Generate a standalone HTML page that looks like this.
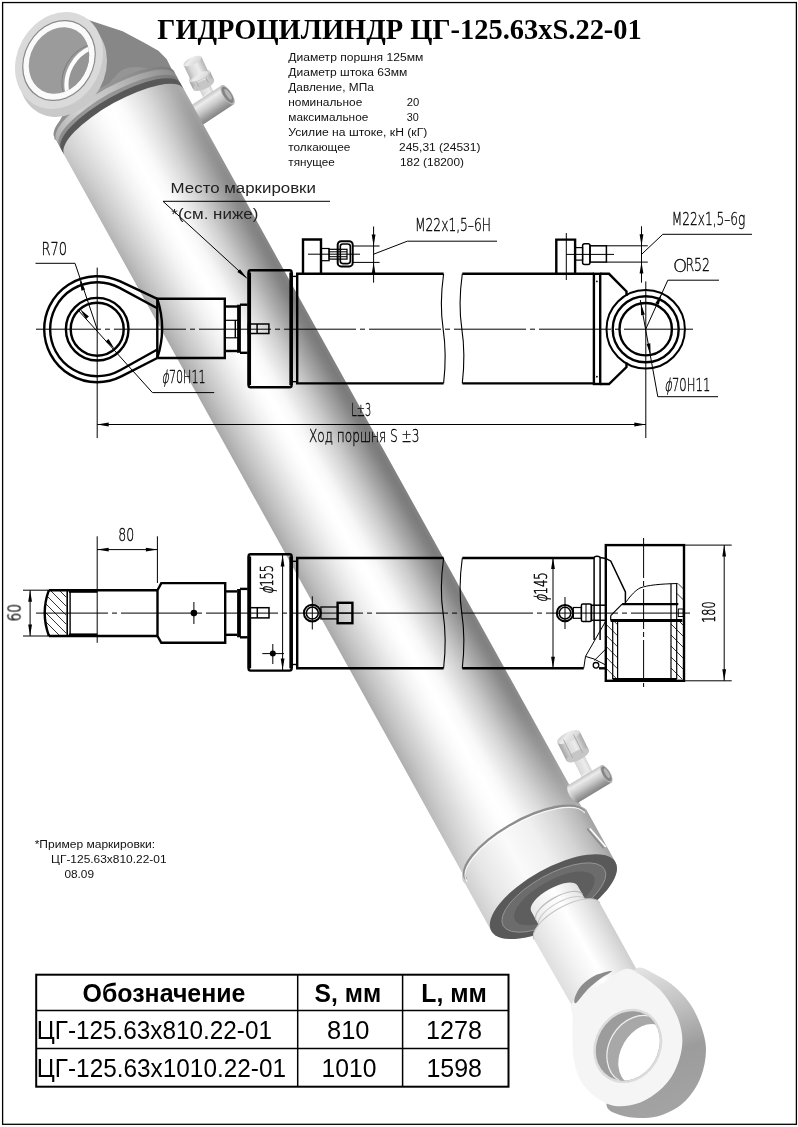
<!DOCTYPE html>
<html lang="ru"><head><meta charset="utf-8"><title>Гидроцилиндр ЦГ-125.63xS.22-01</title>
<style>html,body{margin:0;padding:0;background:#fff}svg{display:block;will-change:transform}text{font-family:"Liberation Sans",sans-serif}</style>
</head><body>
<svg width="798" height="1127" viewBox="0 0 798 1127">
<defs>
<linearGradient id="gb" gradientUnits="userSpaceOnUse" x1="-68.1" y1="0" x2="68.1" y2="0"><stop offset="0.0000" stop-color="#a6a6a6"/><stop offset="0.0357" stop-color="#b0b0b0"/><stop offset="0.0714" stop-color="#bababa"/><stop offset="0.1071" stop-color="#c3c3c3"/><stop offset="0.1429" stop-color="#cbcbcb"/><stop offset="0.1786" stop-color="#d3d3d3"/><stop offset="0.2143" stop-color="#dbdbdb"/><stop offset="0.2500" stop-color="#e3e3e3"/><stop offset="0.2857" stop-color="#eaeaea"/><stop offset="0.3214" stop-color="#f1f1f1"/><stop offset="0.3571" stop-color="#f6f6f6"/><stop offset="0.3929" stop-color="#fbfbfb"/><stop offset="0.4286" stop-color="#fefefe"/><stop offset="0.4643" stop-color="#ffffff"/><stop offset="0.5000" stop-color="#fcfcfc"/><stop offset="0.5357" stop-color="#f9f9f9"/><stop offset="0.5714" stop-color="#f2f2f2"/><stop offset="0.6071" stop-color="#e8e8e8"/><stop offset="0.6429" stop-color="#dfdfdf"/><stop offset="0.6786" stop-color="#d5d5d5"/><stop offset="0.7143" stop-color="#cbcbcb"/><stop offset="0.7500" stop-color="#bfbfbf"/><stop offset="0.7857" stop-color="#b2b2b2"/><stop offset="0.8214" stop-color="#a5a5a5"/><stop offset="0.8571" stop-color="#999999"/><stop offset="0.8929" stop-color="#8c8c8c"/><stop offset="0.9286" stop-color="#7f7f7f"/><stop offset="0.9643" stop-color="#787878"/><stop offset="1.0000" stop-color="#808080"/></linearGradient>
<linearGradient id="gl" gradientUnits="userSpaceOnUse" x1="0" y1="0" x2="0" y2="829">
<stop offset="0" stop-color="#fff" stop-opacity="0.36"/>
<stop offset="0.06" stop-color="#fff" stop-opacity="0.22"/>
<stop offset="0.16" stop-color="#fff" stop-opacity="0.09"/>
<stop offset="0.3" stop-color="#fff" stop-opacity="0.02"/>
<stop offset="0.5" stop-color="#fff" stop-opacity="0.02"/>
<stop offset="0.72" stop-color="#fff" stop-opacity="0.04"/>
<stop offset="0.85" stop-color="#fff" stop-opacity="0.10"/>
<stop offset="0.93" stop-color="#fff" stop-opacity="0.25"/>
<stop offset="1" stop-color="#fff" stop-opacity="0.42"/>
</linearGradient>
<linearGradient id="gg" gradientUnits="userSpaceOnUse" x1="-71" y1="0" x2="71" y2="0">
<stop offset="0" stop-color="#cfcfcf"/>
<stop offset="0.15" stop-color="#e6e6e6"/>
<stop offset="0.4" stop-color="#fafafa"/>
<stop offset="0.6" stop-color="#f0f0f0"/>
<stop offset="0.8" stop-color="#d4d4d4"/>
<stop offset="0.93" stop-color="#b8b8b8"/>
<stop offset="1" stop-color="#a2a2a2"/>
</linearGradient>
<linearGradient id="gr" gradientUnits="userSpaceOnUse" x1="-38" y1="0" x2="38" y2="0">
<stop offset="0" stop-color="#dedede"/>
<stop offset="0.3" stop-color="#f2f2f2"/>
<stop offset="0.55" stop-color="#ffffff"/>
<stop offset="0.8" stop-color="#e6e6e6"/>
<stop offset="1" stop-color="#cecece"/>
</linearGradient>
<linearGradient id="gcap" gradientUnits="userSpaceOnUse" x1="-68.1" y1="0" x2="68.1" y2="0">
<stop offset="0" stop-color="#8a8a8a"/>
<stop offset="0.35" stop-color="#9a9a9a"/>
<stop offset="0.7" stop-color="#909090"/>
<stop offset="1" stop-color="#7a7a7a"/>
</linearGradient>
<linearGradient id="gstrip" gradientUnits="userSpaceOnUse" x1="-68.1" y1="0" x2="68.1" y2="0">
<stop offset="0" stop-color="#b0b0b0"/>
<stop offset="0.25" stop-color="#d2d2d2"/>
<stop offset="0.5" stop-color="#c4c4c4"/>
<stop offset="0.8" stop-color="#a4a4a4"/>
<stop offset="1" stop-color="#8c8c8c"/>
</linearGradient>
<linearGradient id="gfit" x1="0" y1="0" x2="1" y2="1">
<stop offset="0" stop-color="#f6f6f6"/>
<stop offset="0.5" stop-color="#e0e0e0"/>
<stop offset="1" stop-color="#b4b4b4"/>
</linearGradient>
<linearGradient id="geye" gradientUnits="userSpaceOnUse" x1="640" y1="970" x2="690" y2="1110">
<stop offset="0" stop-color="#e2e2e2"/>
<stop offset="0.35" stop-color="#bcbcbc"/>
<stop offset="0.6" stop-color="#9c9c9c"/>
<stop offset="1" stop-color="#a4a4a4"/>
</linearGradient>
</defs>
<rect width="798" height="1127" fill="#fff"/>
<g id="render3d"><linearGradient id="gf195s" gradientUnits="userSpaceOnUse" x1="198.1" y1="99.9" x2="218.9" y2="90.1"><stop offset="0" stop-color="#a4a4a4"/><stop offset="0.3" stop-color="#dadada"/><stop offset="0.6" stop-color="#ececec"/><stop offset="1" stop-color="#a8a8a8"/></linearGradient>
<polygon points="213.9,92.4 208.5,80.9 197.6,86.0 203.1,97.6" fill="url(#gf195s)"/>
<ellipse cx="203.1" cy="83.4" rx="2.3" ry="6.0" transform="rotate(-115.2 203.1 83.4)" fill="url(#gf195s)"/>
<ellipse cx="208.5" cy="95.0" rx="2.3" ry="6.0" transform="rotate(-115.2 208.5 95.0)" fill="url(#gf195s)"/>
<path d="M213.9,92.4 A2.3,6.0 -115.2 0 1 203.1,97.6" fill="none" stroke="#c0c0c0" stroke-width="0.7"/>
<polygon points="214.1,79.9 209.9,71.1 189.1,80.9 193.3,89.7" fill="url(#gf195s)"/>
<ellipse cx="199.5" cy="76.0" rx="4.4" ry="11.5" transform="rotate(-115.2 199.5 76.0)" fill="url(#gf195s)"/>
<ellipse cx="203.7" cy="84.8" rx="4.4" ry="11.5" transform="rotate(-115.2 203.7 84.8)" fill="#c6c6c6"/>
<line x1="199.0" y1="87.0" x2="194.9" y2="78.2" stroke="#a8a8a8" stroke-width="0.9"/>
<line x1="208.4" y1="82.6" x2="204.2" y2="73.8" stroke="#a8a8a8" stroke-width="0.9"/>
<polygon points="208.7,72.5 201.4,56.8 183.6,65.2 191.0,80.8" fill="url(#gf195s)"/>
<ellipse cx="192.5" cy="61.0" rx="3.7" ry="9.8" transform="rotate(-115.2 192.5 61.0)" fill="url(#gf195s)"/>
<ellipse cx="199.9" cy="76.6" rx="3.7" ry="9.8" transform="rotate(-115.2 199.9 76.6)" fill="url(#gf195s)"/>
<path d="M208.7,72.5 A3.7,9.8 -115.2 0 1 191.0,80.8" fill="none" stroke="#c0c0c0" stroke-width="0.7"/>
<linearGradient id="gf195t" gradientUnits="userSpaceOnUse" x1="189.3" y1="106.6" x2="201.7" y2="125.4"><stop offset="0" stop-color="#c4c4c4"/><stop offset="0.2" stop-color="#ececec"/><stop offset="0.5" stop-color="#cacaca"/><stop offset="0.8" stop-color="#9c9c9c"/><stop offset="1" stop-color="#848484"/></linearGradient>
<ellipse cx="195.5" cy="116.0" rx="4.5" ry="11.3" transform="rotate(-33.3 195.5 116.0)" fill="url(#gf195t)"/>
<polygon points="201.7,125.4 233.8,104.3 221.4,85.5 189.3,106.6" fill="url(#gf195t)"/>
<ellipse cx="227.6" cy="94.9" rx="4.5" ry="11.3" transform="rotate(-33.3 227.6 94.9)" fill="#b8b8b8"/>
<ellipse cx="227.6" cy="94.9" rx="3.8" ry="9.5" transform="rotate(-33.3 227.6 94.9)" fill="#848484"/>
<ellipse cx="228.4" cy="94.6" rx="2.0" ry="6.2" transform="rotate(-33.3 227.6 94.9)" fill="#b4b4b4"/>
<polygon points="66.0,12.0 90.0,20.6 122.6,31.2 143.8,42.6 158.4,50.7 166.6,58.9 173.1,71.9 176.3,80.0 182.5,90.0 122.0,121.0 63.8,153.9 54.6,136.6 62.7,115.4 30.0,90.0" fill="#878787"/>
<path d="M62.7,115.4 C66.1,110.6 68.8,111.9 75.0,108.0 C81.2,104.1 93.8,96.7 100.0,92.0 C106.2,87.3 108.3,83.7 112.0,80.0 C115.7,76.3 118.2,72.2 122.0,70.0 C125.8,67.8 130.3,67.2 135.0,67.0 C139.7,66.8 145.0,68.0 150.0,69.0 C155.0,70.0 161.2,71.8 165.0,73.0 C168.8,74.2 170.8,74.2 173.0,76.0 C175.2,77.8 181.8,82.7 178.0,84.0 C174.2,85.3 159.7,82.0 150.0,84.0 C140.3,86.0 130.0,90.3 120.0,96.0 C110.0,101.7 98.3,111.0 90.0,118.0 C81.7,125.0 75.3,134.3 70.0,138.0 C64.7,141.7 60.6,140.2 58.0,140.0 C55.4,139.8 53.8,140.7 54.6,136.6 C55.4,132.5 59.3,120.2 62.7,115.4Z" fill="#959595"/>
<g transform="translate(123.36,120.88) rotate(-29.0)">
<path d="M-68.1,-21 A68.1,21.110999999999997 0 0 1 68.1,-16 L68.1,2 A68.1,21.110999999999997 0 0 0 -68.1,2 Z" fill="url(#gcap)"/>
<path d="M-68.1,-15.5 A68.1,21.110999999999997 0 0 1 68.1,-15.5 L68.1,-9.5 A68.1,21.110999999999997 0 0 0 -68.1,-9.5 Z" fill="url(#gstrip)"/>
<path d="M-68.1,0 A68.1,21.110999999999997 0 0 1 68.1,0 L68.1,829.0 A68.1,25.197 0 0 0 -68.1,829.0 Z" fill="url(#gb)"/>
<path d="M-68.1,0 A68.1,21.110999999999997 0 0 1 68.1,0 L68.1,829.0 A68.1,25.197 0 0 0 -68.1,829.0 Z" fill="url(#gl)"/>
<path d="M-68.1,-5.6 A68.1,21.110999999999997 0 0 1 68.1,-5.6 L68.1,0.8 A68.1,21.110999999999997 0 0 0 -68.1,0.8 Z" fill="#585858"/>
<path d="M-71.0,833.0 A71.0,26.27 0 0 1 71.0,827.0 L71.0,887.0 A71.0,28.400000000000002 0 0 1 -71.0,887.0 Z" fill="url(#gg)"/>
<path d="M-68.1,830.0 A68.1,25.197 0 0 1 68.1,827.0" fill="none" stroke="#8e8e8e" stroke-width="2.4"/>
<path d="M-68.1,832.0 A68.1,25.197 0 0 1 68.1,829.0" fill="none" stroke="#fff" stroke-width="1.2" opacity="0.8"/>
<path d="M65.0,845.0 L70.0,869.0" fill="none" stroke="#fff" stroke-width="1.6"/>
<path d="M62.5,844.0 L67.5,869.0" fill="none" stroke="#8a8a8a" stroke-width="1.4"/>
<ellipse cx="0" cy="887.0" rx="71.0" ry="28.400000000000002" fill="#595959"/>
<ellipse cx="0" cy="888.0" rx="58.0" ry="23.200000000000003" fill="#6c6c6c" stroke="#9a9a9a" stroke-width="0.8"/>
<ellipse cx="0" cy="889.0" rx="45.0" ry="18.0" fill="#5e5e5e"/>
<path d="M-26.5,889.0 A26.5,10.600000000000001 0 0 1 26.5,889.0 L26.5,915.0 L-26.5,915.0 Z" fill="url(#gr)"/>
<path d="M-26.5,899.0 A26.5,10.600000000000001 0 0 1 26.5,899.0" fill="none" stroke="#bdbdbd" stroke-width="1.2"/>
<path d="M-26.5,905.0 A26.5,10.600000000000001 0 0 1 26.5,905.0" fill="none" stroke="#c8c8c8" stroke-width="1"/>
<path d="M-37.6,915.0 A37.6,15.040000000000001 0 0 1 37.6,915.0 L37.6,991.0 L-36.6,997.0 Z" fill="url(#gr)"/>
<path d="M-37.6,915.0 A37.6,15.040000000000001 0 0 1 37.6,915.0" fill="none" stroke="#c4c4c4" stroke-width="1"/>
</g>
<path d="M636.5,968.2 C641.7,965.7 649.4,971.4 656.0,974.8 C662.6,978.1 669.9,982.3 676.3,988.3 C682.7,994.3 689.5,1001.5 694.4,1010.9 C699.3,1020.3 704.6,1033.8 705.7,1044.7 C706.8,1055.6 704.5,1066.9 701.1,1076.3 C697.7,1085.7 691.7,1094.7 685.3,1101.1 C678.9,1107.5 670.3,1111.9 662.8,1114.7 C655.3,1117.5 647.3,1118.0 640.2,1118.0 C633.1,1118.0 625.5,1116.8 620.0,1115.0 C614.5,1113.2 608.7,1111.2 607.0,1107.0 C605.3,1102.8 607.8,1101.2 610.0,1090.0 C612.2,1078.8 617.5,1056.7 620.0,1040.0 C622.5,1023.3 622.2,1002.0 625.0,990.0 C627.8,978.0 631.3,970.7 636.5,968.2Z" fill="url(#geye)"/>
<path d="M573.0,1002.0 C568.4,1007.5 572.5,1008.3 572.6,1017.7 C572.7,1027.1 571.8,1047.0 573.7,1058.3 C575.6,1069.6 578.3,1077.8 583.8,1085.3 C589.2,1092.8 598.9,1100.0 606.4,1103.4 C613.9,1106.8 621.5,1106.7 629.0,1105.6 C636.5,1104.5 644.4,1101.5 651.5,1096.6 C658.6,1091.7 666.7,1084.6 671.8,1076.3 C676.9,1068.0 680.9,1056.4 682.0,1047.0 C683.1,1037.6 681.8,1028.9 678.6,1019.9 C675.4,1010.9 669.2,1000.4 662.8,992.9 C656.4,985.4 646.6,978.8 640.2,974.8 C633.8,970.8 631.1,967.5 624.4,969.2 C617.7,970.9 608.6,979.5 600.0,985.0 C591.4,990.5 577.6,996.5 573.0,1002.0Z" fill="#f5f5f5"/>
<path d="M575.0,997.0 C576.0,994.0 578.5,988.7 582.0,985.0 C585.5,981.3 591.0,977.3 596.0,975.0 C601.0,972.7 611.3,970.3 612.0,971.0 C612.7,971.7 604.0,976.0 600.0,979.0 C596.0,982.0 592.0,985.0 588.0,989.0 C584.0,993.0 578.2,1001.7 576.0,1003.0 C573.8,1004.3 574.0,1000.0 575.0,997.0Z" fill="#8c8c8c"/>
<g transform="translate(627.8,1045.9) rotate(-60)">
<ellipse rx="38.5" ry="33" fill="#dcdcdc"/>
<ellipse rx="36" ry="30.5" fill="#9c9c9c"/>
</g>
<clipPath id="hc"><ellipse rx="36" ry="30.5" transform="translate(627.8,1045.9) rotate(-60)"/></clipPath>
<g clip-path="url(#hc)">
<ellipse rx="36" ry="29" transform="translate(637.8,1049.9) rotate(-60)" fill="#a8a8a8" stroke="#f0f0f0" stroke-width="1.2"/>
<ellipse rx="33" ry="24" transform="translate(644.8,1054.9) rotate(-60)" fill="#fff"/>
</g>
<linearGradient id="gf573s" gradientUnits="userSpaceOnUse" x1="575.8" y1="779.6" x2="598.2" y2="768.4"><stop offset="0" stop-color="#a4a4a4"/><stop offset="0.3" stop-color="#dadada"/><stop offset="0.6" stop-color="#ececec"/><stop offset="1" stop-color="#a8a8a8"/></linearGradient>
<polygon points="592.4,771.3 581.6,749.9 570.9,755.2 581.6,776.7" fill="url(#gf573s)"/>
<ellipse cx="576.3" cy="752.5" rx="2.3" ry="6.0" transform="rotate(-116.6 576.3 752.5)" fill="url(#gf573s)"/>
<ellipse cx="587.0" cy="774.0" rx="2.3" ry="6.0" transform="rotate(-116.6 587.0 774.0)" fill="url(#gf573s)"/>
<path d="M592.4,771.3 A2.3,6.0 -116.6 0 1 581.6,776.7" fill="none" stroke="#c0c0c0" stroke-width="0.7"/>
<polygon points="588.9,749.9 579.7,731.4 557.3,742.6 566.6,761.1" fill="url(#gf573s)"/>
<ellipse cx="568.5" cy="737.0" rx="4.8" ry="12.5" transform="rotate(-116.6 568.5 737.0)" fill="url(#gf573s)"/>
<ellipse cx="577.8" cy="755.5" rx="4.8" ry="12.5" transform="rotate(-116.6 577.8 755.5)" fill="#c6c6c6"/>
<line x1="572.7" y1="758.0" x2="563.5" y2="739.5" stroke="#a8a8a8" stroke-width="0.9"/>
<line x1="582.8" y1="753.0" x2="573.5" y2="734.5" stroke="#a8a8a8" stroke-width="0.9"/>
<linearGradient id="gf573t" gradientUnits="userSpaceOnUse" x1="568.0" y1="785.3" x2="578.4" y2="802.5"><stop offset="0" stop-color="#c4c4c4"/><stop offset="0.2" stop-color="#ececec"/><stop offset="0.5" stop-color="#cacaca"/><stop offset="0.8" stop-color="#9c9c9c"/><stop offset="1" stop-color="#848484"/></linearGradient>
<ellipse cx="573.2" cy="793.9" rx="4.0" ry="10.0" transform="rotate(-31.1 573.2 793.9)" fill="url(#gf573t)"/>
<polygon points="578.4,802.5 611.6,782.5 601.2,765.3 568.0,785.3" fill="url(#gf573t)"/>
<ellipse cx="606.4" cy="773.9" rx="4.0" ry="10.0" transform="rotate(-31.1 606.4 773.9)" fill="#b8b8b8"/>
<ellipse cx="606.4" cy="773.9" rx="3.4" ry="8.4" transform="rotate(-31.1 606.4 773.9)" fill="#848484"/>
<ellipse cx="607.2" cy="773.6" rx="1.8" ry="5.5" transform="rotate(-31.1 606.4 773.9)" fill="#b4b4b4"/>
<ellipse rx="50.4" ry="41.8" transform="translate(63,68.5) rotate(-60.7)" fill="#c9c9c9"/>
<g transform="translate(59,60.5) rotate(-60.7)">
<ellipse rx="50.4" ry="41.8" fill="#dadada"/>
<ellipse rx="42.2" ry="35" fill="#8a8a8a"/>
<ellipse rx="40.9" ry="33.9" fill="#fafafa"/>
<ellipse rx="34.6" ry="28.7" fill="#9b9b9b"/>
</g>
<clipPath id="bc"><ellipse rx="34.6" ry="28.7" transform="translate(59,60.5) rotate(-60.7)"/></clipPath>
<g clip-path="url(#bc)">
<ellipse rx="35" ry="29" transform="translate(97,79.5) rotate(-60.7)" fill="#959595" stroke="#fcfcfc" stroke-width="4.2"/>
<ellipse rx="35" ry="29" transform="translate(92.5,77.5) rotate(-60.7)" fill="none" stroke="#7c7c7c" stroke-width="0.9"/>
</g></g>
<g id="drawing"><g fill="none" stroke="#000" stroke-linecap="butt" stroke-linejoin="miter">
<line x1="36.0" y1="329.2" x2="693.0" y2="329.2" stroke-width="1.0" stroke-dasharray="72 4 5 4" stroke-dashoffset="7"/>
<line x1="97.2" y1="267.6" x2="97.2" y2="438.0" stroke-width="1.0" />
<line x1="645.8" y1="281.4" x2="645.8" y2="438.0" stroke-width="1.0" />
<path d="M157.3,298.8 L119.7,281.2 A53,53 0 1 0 121.3,376.4 L157.3,358.0" stroke-width="2.4" />
<path d="M157.3,308.3 L119.6,287.9 A47,47 0 1 0 120.1,370.2 L157.3,349.5" stroke-width="2.4" />
<circle cx="97.2" cy="329.2" r="31.3" stroke-width="2.4" />
<circle cx="97.2" cy="329.2" r="26.5" stroke-width="2.4" />
<path d="M157.3,298.8 Q167,328.4 157.3,358.0" stroke-width="2.4" />
<polyline points="157.3,358.0 157.3,298.8 224.8,298.8 224.8,358.0 157.3,358.0" stroke-width="2.4" />
<polyline points="224.8,306.5 238.0,306.5" stroke-width="2.4" />
<polyline points="224.8,351.0 238.0,351.0" stroke-width="2.4" />
<line x1="224.8" y1="320.3" x2="238.0" y2="320.3" stroke-width="1.2" />
<line x1="224.8" y1="337.8" x2="238.0" y2="337.8" stroke-width="1.2" />
<line x1="239.0" y1="304.7" x2="239.0" y2="352.8" stroke-width="3.8" />
<line x1="235.3" y1="320.3" x2="235.3" y2="337.8" stroke-width="1.4" />
<polyline points="240.0,304.7 247.6,304.7" stroke-width="2.4" />
<polyline points="240.0,352.8 247.6,352.8" stroke-width="2.4" />
<rect x="248.6" y="270.3" width="43.0" height="117.0" rx="2" stroke-width="2.4" />
<line x1="249.3" y1="272.5" x2="249.3" y2="385.0" stroke-width="3.5" />
<line x1="291.1" y1="272.5" x2="291.1" y2="385.0" stroke-width="3.5" />
<polyline points="291.5,276.4 297.2,276.4" stroke-width="1.4" />
<polyline points="291.5,381.7 297.2,381.7" stroke-width="1.4" />
<polyline points="443.6,273.8 297.2,273.8 297.2,383.4 443.6,383.4" stroke-width="2.4" />
<polyline points="462.3,273.8 593.9,273.8" stroke-width="2.4" />
<polyline points="462.3,383.4 593.9,383.4" stroke-width="2.4" />
<path d="M443.6,273.8 C440.6,295.72 440.6,312.15999999999997 443.1,328.6 S446.1,361.48 443.6,383.4" stroke-width="1.1" />
<path d="M462.3,273.8 C459.3,295.72 459.3,312.15999999999997 461.8,328.6 S464.8,361.48 462.3,383.4" stroke-width="1.1" />
<rect x="248.4" y="324.0" width="20.5" height="9.5" rx="0" stroke-width="1.5" />
<line x1="257.1" y1="324.0" x2="257.1" y2="333.5" stroke-width="1.5" />
<polyline points="303.0,273.4 303.0,239.5 321.0,239.5 321.0,273.4" stroke-width="2.4" />
<rect x="321.0" y="248.5" width="8.1" height="12.2" rx="0" stroke-width="1.2" />
<rect x="329.0" y="249.3" width="18.0" height="9.8" rx="0" stroke-width="1.2" />
<line x1="329.0" y1="251.8" x2="347.0" y2="251.8" stroke-width="1" />
<line x1="329.0" y1="256.7" x2="347.0" y2="256.7" stroke-width="1" />
<rect x="337.7" y="241.2" width="15.0" height="25.2" rx="3.5" stroke-width="2" />
<rect x="340.3" y="244.0" width="10.0" height="19.6" rx="2.5" stroke-width="1.6" />
<line x1="352.0" y1="246.0" x2="379.6" y2="246.0" stroke-width="1.0" />
<line x1="352.0" y1="262.4" x2="379.6" y2="262.4" stroke-width="1.0" />
<line x1="308.0" y1="254.2" x2="360.0" y2="254.2" stroke-width="1.0" />
<line x1="373.6" y1="226.5" x2="373.6" y2="282.7" stroke-width="1.0" />
<polygon points="373.6,246.0 371.7,234.5 375.5,234.5" fill="#000" stroke="none"/>
<polygon points="373.6,262.4 375.5,273.9 371.7,273.9" fill="#000" stroke="none"/>
<polyline points="373.6,254.2 407.3,241.2 497.0,241.2" stroke-width="1.0" />
<rect x="593.9" y="273.8" width="6.3" height="110.2" rx="0" stroke-width="2.4" />
<circle cx="596.9" cy="281.4" r="0.9" fill="#000" stroke="none"/><circle cx="596.9" cy="376.7" r="0.9" fill="#000" stroke="none"/>
<polyline points="600.2,273.8 609.0,273.8 626.5,291.5 626.5,296.0" stroke-width="2.4" />
<polyline points="600.2,384.0 609.0,384.0 626.5,367.0 626.5,362.5" stroke-width="2.4" />
<circle cx="645.7" cy="329.2" r="39.2" stroke-width="2" />
<circle cx="645.7" cy="329.2" r="33.0" stroke-width="2.4" />
<circle cx="645.7" cy="329.2" r="26.2" stroke-width="2.4" />
<polyline points="556.3,273.9 556.3,239.6 575.1,239.6 575.1,273.9" stroke-width="2.4" />
<line x1="566.3" y1="233.0" x2="566.3" y2="280.0" stroke-width="1.0" />
<rect x="575.0" y="247.6" width="7.6" height="12.5" rx="0" stroke-width="1.2" />
<rect x="582.6" y="243.8" width="7.4" height="20.8" rx="2" stroke-width="1.5" />
<rect x="590.0" y="245.8" width="16.4" height="16.3" rx="0" stroke-width="1.5" />
<line x1="606.4" y1="245.8" x2="647.8" y2="245.8" stroke-width="1.0" />
<line x1="606.4" y1="262.1" x2="647.8" y2="262.1" stroke-width="1.0" />
<line x1="566.0" y1="254.4" x2="614.0" y2="254.4" stroke-width="1.0" />
<line x1="641.5" y1="226.3" x2="641.5" y2="282.7" stroke-width="1.0" />
<polygon points="641.5,245.8 639.6,234.3 643.4,234.3" fill="#000" stroke="none"/>
<polygon points="641.5,262.1 643.4,273.6 639.6,273.6" fill="#000" stroke="none"/>
<polyline points="641.5,254.4 662.8,234.3 752.0,234.3" stroke-width="1.0" />
<polyline points="645.7,329.2 667.8,280.2 719.0,280.2" stroke-width="1.0" />
<polygon points="661.8,293.5 658.8,304.8 655.3,303.2" fill="#000" stroke="none"/>
<polyline points="640.3,300.0 657.8,396.7 718.0,396.7" stroke-width="1.0" />
<polygon points="650.6,354.9 646.6,344.0 650.3,343.2" fill="#000" stroke="none"/>
<polygon points="640.8,303.5 644.8,314.4 641.1,315.2" fill="#000" stroke="none"/>
<polyline points="35.5,263.3 75.0,263.3 97.2,329.2" stroke-width="1.0" />
<polygon points="79.5,279.2 85.1,289.4 81.5,290.7" fill="#000" stroke="none"/>
<polyline points="78.3,310.3 152.4,392.6 214.2,392.6" stroke-width="1.0" />
<polygon points="114.6,349.0 105.6,341.6 108.5,339.1" fill="#000" stroke="none"/>
<polygon points="79.9,309.0 88.9,316.4 86.0,318.9" fill="#000" stroke="none"/>
<polyline points="330.0,201.3 163.0,201.3 246.5,277.8" stroke-width="1.0" />
<polygon points="247.2,278.5 237.4,272.1 240.0,269.3" fill="#000" stroke="none"/>
<line x1="97.2" y1="424.5" x2="645.8" y2="424.5" stroke-width="1.0" />
<polygon points="97.2,424.5 108.7,422.6 108.7,426.4" fill="#000" stroke="none"/>
<polygon points="645.8,424.5 634.3,426.4 634.3,422.6" fill="#000" stroke="none"/>
<line x1="36.0" y1="613.1" x2="690.0" y2="613.1" stroke-width="1.0" stroke-dasharray="72 4 5 4"/>
<path d="M48.9,590.2 Q40.5,612.8 48.9,636.0" stroke-width="2.4" />
<line x1="48.9" y1="590.2" x2="157.5" y2="590.2" stroke-width="2.4" />
<line x1="48.9" y1="636.0" x2="157.5" y2="636.0" stroke-width="2.4" />
<line x1="68.9" y1="591.3" x2="97.2" y2="591.3" stroke-width="3" />
<line x1="68.9" y1="634.9" x2="97.2" y2="634.9" stroke-width="3" />
<line x1="67.2" y1="590.2" x2="67.2" y2="636.0" stroke-width="1.6" />
<line x1="70.1" y1="590.2" x2="70.1" y2="636.0" stroke-width="1.4" />
<clipPath id="h1"><path d="M48.9,590.2 Q40.5,612.8 48.9,636.0 L66.4,636.0 L66.4,590.2Z"/></clipPath>
<g clip-path="url(#h1)"><line x1="42.0" y1="627.0" x2="51.0" y2="636.0" stroke-width="0.8" />
<line x1="42.0" y1="618.0" x2="60.0" y2="636.0" stroke-width="0.8" />
<line x1="42.0" y1="609.0" x2="66.4" y2="633.4" stroke-width="0.8" />
<line x1="42.0" y1="600.0" x2="66.4" y2="624.4" stroke-width="0.8" />
<line x1="42.0" y1="591.0" x2="66.4" y2="615.4" stroke-width="0.8" />
<line x1="50.2" y1="590.2" x2="66.4" y2="606.4" stroke-width="0.8" />
<line x1="59.2" y1="590.2" x2="66.4" y2="597.4" stroke-width="0.8" /></g>
<line x1="97.2" y1="536.3" x2="97.2" y2="642.8" stroke-width="1.0" />
<line x1="157.4" y1="536.3" x2="157.4" y2="583.0" stroke-width="1.0" />
<line x1="97.2" y1="549.6" x2="157.4" y2="549.6" stroke-width="1.0" />
<polygon points="97.2,549.6 108.7,547.7 108.7,551.5" fill="#000" stroke="none"/>
<polygon points="157.4,549.6 145.9,551.5 145.9,547.7" fill="#000" stroke="none"/>
<line x1="23.0" y1="590.2" x2="48.9" y2="590.2" stroke-width="1.0" />
<line x1="23.0" y1="636.0" x2="48.9" y2="636.0" stroke-width="1.0" />
<line x1="30.1" y1="590.2" x2="30.1" y2="636.0" stroke-width="1.0" />
<polygon points="30.1,590.2 32.0,601.7 28.2,601.7" fill="#000" stroke="none"/>
<polygon points="30.1,636.0 28.2,624.5 32.0,624.5" fill="#000" stroke="none"/>
<polyline points="157.5,590.2 161.3,583.1 225.2,583.1 225.2,642.8 161.3,642.8 157.5,636.0 157.5,590.2" stroke-width="2.4" />
<circle cx="193.9" cy="613.1" r="3.3" fill="#000" stroke="none"/>
<line x1="193.9" y1="602.0" x2="193.9" y2="624.0" stroke-width="1.0" />
<line x1="225.2" y1="591.4" x2="237.0" y2="591.4" stroke-width="2.4" />
<line x1="225.2" y1="634.8" x2="237.0" y2="634.8" stroke-width="2.4" />
<line x1="239.0" y1="589.0" x2="239.0" y2="637.3" stroke-width="3.8" />
<line x1="240.0" y1="588.9" x2="247.7" y2="588.9" stroke-width="2.4" />
<line x1="240.0" y1="637.3" x2="247.7" y2="637.3" stroke-width="2.4" />
<rect x="248.6" y="554.2" width="43.0" height="116.4" rx="2" stroke-width="2.4" />
<line x1="249.4" y1="556.5" x2="249.4" y2="668.3" stroke-width="3.5" />
<line x1="291.1" y1="556.5" x2="291.1" y2="668.3" stroke-width="3.5" />
<line x1="292.4" y1="561.3" x2="297.2" y2="561.3" stroke-width="1.4" />
<line x1="292.4" y1="664.5" x2="297.2" y2="664.5" stroke-width="1.4" />
<polyline points="443.6,558.0 297.2,558.0 297.2,668.2 443.6,668.2" stroke-width="2.4" />
<line x1="462.3" y1="558.0" x2="594.0" y2="558.0" stroke-width="2.4" />
<line x1="462.3" y1="668.2" x2="583.8" y2="668.2" stroke-width="2.4" />
<path d="M443.6,558 C440.6,580.04 440.6,596.57 443.1,613.1 S446.1,646.1600000000001 443.6,668.2" stroke-width="1.1" />
<path d="M462.3,558 C459.3,580.04 459.3,596.57 461.8,613.1 S464.8,646.1600000000001 462.3,668.2" stroke-width="1.1" />
<rect x="249.0" y="607.7" width="20.0" height="10.2" rx="0" stroke-width="1.5" />
<line x1="257.3" y1="607.7" x2="257.3" y2="617.9" stroke-width="1.5" />
<line x1="282.6" y1="554.0" x2="282.6" y2="671.0" stroke-width="1.0" />
<polygon points="282.6,555.0 284.5,566.5 280.7,566.5" fill="#000" stroke="none"/>
<polygon points="282.6,670.0 280.7,658.5 284.5,658.5" fill="#000" stroke="none"/>
<circle cx="272.8" cy="653.6" r="3" fill="#000" stroke="none"/>
<line x1="262.3" y1="653.6" x2="284.0" y2="653.6" stroke-width="1.0" />
<line x1="272.8" y1="644.0" x2="272.8" y2="664.0" stroke-width="1.0" />
<circle cx="312.3" cy="613.1" r="8.4" stroke-width="2" />
<circle cx="312.3" cy="613.1" r="6.0" stroke-width="1.5" />
<line x1="312.3" y1="596.3" x2="312.3" y2="629.5" stroke-width="1.0" />
<rect x="320.9" y="607.0" width="16.7" height="11.9" rx="0" stroke-width="1.3" />
<rect x="337.6" y="602.8" width="14.8" height="20.4" rx="0" stroke-width="2.4" />
<line x1="337.6" y1="613.1" x2="352.4" y2="613.1" stroke-width="1.2" />
<line x1="553.0" y1="557.6" x2="553.0" y2="668.3" stroke-width="1.0" />
<polygon points="553.0,557.6 554.9,569.1 551.1,569.1" fill="#000" stroke="none"/>
<polygon points="553.0,668.3 551.1,656.8 554.9,656.8" fill="#000" stroke="none"/>
<circle cx="565.0" cy="613.1" r="8.2" stroke-width="2" />
<circle cx="565.0" cy="613.1" r="5.8" stroke-width="1.5" />
<line x1="565.0" y1="597.0" x2="565.0" y2="629.0" stroke-width="1.0" />
<rect x="573.3" y="607.5" width="8.1" height="10.8" rx="0" stroke-width="1.2" />
<rect x="581.4" y="604.0" width="10.0" height="17.5" rx="1.5" stroke-width="1.5" />
<rect x="591.4" y="605.2" width="14.4" height="15.1" rx="0" stroke-width="1.5" />
<line x1="586.0" y1="604.0" x2="586.0" y2="621.5" stroke-width="1" />
<path d="M594.1,640 L594.1,558 Q594.1,556.2 597,556.2 Q600.1,556.2 600.1,558 L600.1,640" stroke-width="1.5" />
<rect x="605.8" y="545.1" width="78.2" height="135.7" rx="0" stroke-width="2.4" />
<line x1="643.6" y1="538.0" x2="643.6" y2="687.0" stroke-width="1.0" stroke-dasharray="40 3 5 3"/>
<path d="M600.1,557.6 Q606,557.8 610.7,561 L625.4,592 L625.4,603.4" stroke-width="1.5" />
<path d="M626.2,601.8 C631,595 636,590 640,588 C648,585 660,584 677.5,583.5" stroke-width="1" />
<line x1="622.1" y1="604.2" x2="678.3" y2="604.2" stroke-width="2.2" />
<line x1="622.1" y1="604.2" x2="610.7" y2="615.6" stroke-width="1.2" />
<line x1="610.7" y1="620.5" x2="682.4" y2="620.5" stroke-width="3.2" />
<line x1="610.7" y1="615.6" x2="610.7" y2="620.5" stroke-width="1.2" />
<line x1="671.0" y1="583.5" x2="671.0" y2="679.0" stroke-width="1.2" />
<line x1="676.7" y1="583.5" x2="676.7" y2="679.0" stroke-width="1.2" />
<line x1="676.7" y1="593.2" x2="684.0" y2="600.5" stroke-width="0.8" />
<line x1="678.0" y1="583.5" x2="684.0" y2="589.5" stroke-width="0.8" />
<line x1="671.0" y1="668.0" x2="682.0" y2="679.0" stroke-width="0.8" />
<line x1="671.0" y1="657.0" x2="684.0" y2="670.0" stroke-width="0.8" />
<line x1="671.0" y1="646.0" x2="684.0" y2="659.0" stroke-width="0.8" />
<line x1="671.0" y1="635.0" x2="684.0" y2="648.0" stroke-width="0.8" />
<line x1="671.0" y1="624.0" x2="684.0" y2="637.0" stroke-width="0.8" />
<line x1="680.0" y1="622.0" x2="684.0" y2="626.0" stroke-width="0.8" />
<rect x="678.3" y="609.0" width="4.9" height="7.5" rx="0" stroke-width="1" />
<line x1="612.7" y1="622.0" x2="612.7" y2="679.0" stroke-width="1.2" />
<line x1="617.6" y1="622.0" x2="617.6" y2="679.0" stroke-width="1.2" />
<line x1="605.8" y1="668.0" x2="616.8" y2="679.0" stroke-width="0.8" />
<line x1="605.8" y1="657.0" x2="617.6" y2="668.8" stroke-width="0.8" />
<line x1="605.8" y1="646.0" x2="617.6" y2="657.8" stroke-width="0.8" />
<line x1="605.8" y1="635.0" x2="617.6" y2="646.8" stroke-width="0.8" />
<line x1="605.8" y1="624.0" x2="617.6" y2="635.8" stroke-width="0.8" />
<line x1="614.8" y1="622.0" x2="617.6" y2="624.8" stroke-width="0.8" />
<line x1="612.7" y1="679.2" x2="676.7" y2="679.2" stroke-width="2.2" />
<polyline points="605.8,621.0 594.4,640.9 585.5,656.4 583.8,667.8" stroke-width="1" />
<polyline points="605.8,649.0 594.4,660.4" stroke-width="1" />
<polyline points="585.5,656.4 594.0,659.0 605.8,665.0" stroke-width="1" />
<circle cx="596.0" cy="665.3" r="2.8" stroke-width="1.3" />
<line x1="599.0" y1="668.3" x2="605.8" y2="668.3" stroke-width="2.4" />
<line x1="684.0" y1="545.1" x2="731.7" y2="545.1" stroke-width="1.0" />
<line x1="684.0" y1="680.8" x2="731.7" y2="680.8" stroke-width="1.0" />
<line x1="724.2" y1="545.1" x2="724.2" y2="680.8" stroke-width="1.0" />
<polygon points="724.2,545.1 726.1,556.6 722.3,556.6" fill="#000" stroke="none"/>
<polygon points="724.2,680.8 722.3,669.3 726.1,669.3" fill="#000" stroke="none"/>
</g></g>
<g id="labels" opacity="0.999"><text x="157.3" y="39.2" font-size="29.5" style='font-family:"Liberation Serif",serif' font-weight="bold" text-anchor="start" fill="#000" textLength="484.5" lengthAdjust="spacingAndGlyphs" >ГИДРОЦИЛИНДР ЦГ-125.63xS.22-01</text>
<text x="288.3" y="61.0" font-size="10" style='font-family:"Liberation Sans",sans-serif' font-weight="normal" text-anchor="start" fill="#111" textLength="135.0" lengthAdjust="spacingAndGlyphs" >Диаметр поршня 125мм</text>
<text x="288.3" y="76.0" font-size="10" style='font-family:"Liberation Sans",sans-serif' font-weight="normal" text-anchor="start" fill="#111" textLength="119.0" lengthAdjust="spacingAndGlyphs" >Диаметр штока 63мм</text>
<text x="288.3" y="91.0" font-size="10" style='font-family:"Liberation Sans",sans-serif' font-weight="normal" text-anchor="start" fill="#111" textLength="85.5" lengthAdjust="spacingAndGlyphs" >Давление, МПа</text>
<text x="288.3" y="106.0" font-size="10" style='font-family:"Liberation Sans",sans-serif' font-weight="normal" text-anchor="start" fill="#111" textLength="74.0" lengthAdjust="spacingAndGlyphs" >номинальное</text>
<text x="406.8" y="106.0" font-size="10" style='font-family:"Liberation Sans",sans-serif' font-weight="normal" text-anchor="start" fill="#111" textLength="12.5" lengthAdjust="spacingAndGlyphs" >20</text>
<text x="288.3" y="121.0" font-size="10" style='font-family:"Liberation Sans",sans-serif' font-weight="normal" text-anchor="start" fill="#111" textLength="80.0" lengthAdjust="spacingAndGlyphs" >максимальное</text>
<text x="406.8" y="121.0" font-size="10" style='font-family:"Liberation Sans",sans-serif' font-weight="normal" text-anchor="start" fill="#111" textLength="12.0" lengthAdjust="spacingAndGlyphs" >30</text>
<text x="288.3" y="136.0" font-size="10" style='font-family:"Liberation Sans",sans-serif' font-weight="normal" text-anchor="start" fill="#111" textLength="139.0" lengthAdjust="spacingAndGlyphs" >Усилие на штоке, кН (кГ)</text>
<text x="288.3" y="151.0" font-size="10" style='font-family:"Liberation Sans",sans-serif' font-weight="normal" text-anchor="start" fill="#111" textLength="62.0" lengthAdjust="spacingAndGlyphs" >толкающее</text>
<text x="399.0" y="151.0" font-size="10" style='font-family:"Liberation Sans",sans-serif' font-weight="normal" text-anchor="start" fill="#111" textLength="81.5" lengthAdjust="spacingAndGlyphs" >245,31 (24531)</text>
<text x="288.3" y="166.0" font-size="10" style='font-family:"Liberation Sans",sans-serif' font-weight="normal" text-anchor="start" fill="#111" textLength="46.5" lengthAdjust="spacingAndGlyphs" >тянущее</text>
<text x="400.0" y="166.0" font-size="10" style='font-family:"Liberation Sans",sans-serif' font-weight="normal" text-anchor="start" fill="#111" textLength="64.0" lengthAdjust="spacingAndGlyphs" >182 (18200)</text>
<text x="170.6" y="193.0" font-size="15.4" style='font-family:"Liberation Sans",sans-serif' font-weight="normal" text-anchor="start" fill="#222" textLength="145.3" lengthAdjust="spacingAndGlyphs" >Место маркировки</text>
<text x="171.3" y="218.9" font-size="15.4" style='font-family:"Liberation Sans",sans-serif' font-weight="normal" text-anchor="start" fill="#222" textLength="87.0" lengthAdjust="spacingAndGlyphs" >*(см. ниже)</text>
<text x="34.7" y="848.0" font-size="10" style='font-family:"Liberation Sans",sans-serif' font-weight="normal" text-anchor="start" fill="#111" textLength="120.5" lengthAdjust="spacingAndGlyphs" >*Пример маркировки:</text>
<text x="51.1" y="863.0" font-size="10" style='font-family:"Liberation Sans",sans-serif' font-weight="normal" text-anchor="start" fill="#111" textLength="115.5" lengthAdjust="spacingAndGlyphs" >ЦГ-125.63x810.22-01</text>
<text x="64.4" y="878.0" font-size="10" style='font-family:"Liberation Sans",sans-serif' font-weight="normal" text-anchor="start" fill="#111" textLength="29.6" lengthAdjust="spacingAndGlyphs" >08.09</text>
<text x="415.0" y="231.0" font-size="17.5" style='font-family:"DejaVu Sans Light","DejaVu Sans","Liberation Sans",sans-serif' font-weight="normal" text-anchor="start" fill="#000" textLength="76.0" lengthAdjust="spacingAndGlyphs" stroke="#000" stroke-width="0.35">M22x1,5–6H</text>
<text x="671.8" y="225.0" font-size="17.5" style='font-family:"DejaVu Sans Light","DejaVu Sans","Liberation Sans",sans-serif' font-weight="normal" text-anchor="start" fill="#000" textLength="73.5" lengthAdjust="spacingAndGlyphs" stroke="#000" stroke-width="0.35">M22x1,5–6g</text>
<text x="673.0" y="271.6" font-size="18.5" style='font-family:"DejaVu Sans Light","DejaVu Sans","Liberation Sans",sans-serif' font-weight="normal" text-anchor="start" fill="#000" textLength="14.2" lengthAdjust="spacingAndGlyphs" stroke="#000" stroke-width="0.35">O</text>
<text x="685.4" y="271.2" font-size="17.5" style='font-family:"DejaVu Sans Light","DejaVu Sans","Liberation Sans",sans-serif' font-weight="normal" text-anchor="start" fill="#000" textLength="24.6" lengthAdjust="spacingAndGlyphs" stroke="#000" stroke-width="0.35">R52</text>
<text x="664.3" y="391.0" font-size="17.5" style='font-family:"DejaVu Sans Light","DejaVu Sans","Liberation Sans",sans-serif' font-weight="normal" text-anchor="start" fill="#000" textLength="46.0" lengthAdjust="spacingAndGlyphs" stroke="#000" stroke-width="0.35"><tspan font-style="italic">ϕ</tspan>70H11</text>
<text x="161.6" y="382.9" font-size="17.5" style='font-family:"DejaVu Sans Light","DejaVu Sans","Liberation Sans",sans-serif' font-weight="normal" text-anchor="start" fill="#000" textLength="44.0" lengthAdjust="spacingAndGlyphs" stroke="#000" stroke-width="0.35"><tspan font-style="italic">ϕ</tspan>70H11</text>
<text x="41.5" y="255.0" font-size="17.5" style='font-family:"DejaVu Sans Light","DejaVu Sans","Liberation Sans",sans-serif' font-weight="normal" text-anchor="start" fill="#000" textLength="25.5" lengthAdjust="spacingAndGlyphs" stroke="#000" stroke-width="0.35">R70</text>
<text x="351.2" y="416.0" font-size="17.5" style='font-family:"DejaVu Sans Light","DejaVu Sans","Liberation Sans",sans-serif' font-weight="normal" text-anchor="start" fill="#000" textLength="20.0" lengthAdjust="spacingAndGlyphs" stroke="#000" stroke-width="0.35">L±3</text>
<text x="309.0" y="442.1" font-size="17.5" style='font-family:"DejaVu Sans Light","DejaVu Sans","Liberation Sans",sans-serif' font-weight="normal" text-anchor="start" fill="#000" textLength="110.5" lengthAdjust="spacingAndGlyphs" stroke="#000" stroke-width="0.35">Ход поршня S ±3</text>
<text x="118.3" y="540.6" font-size="17.5" style='font-family:"DejaVu Sans Light","DejaVu Sans","Liberation Sans",sans-serif' font-weight="normal" text-anchor="start" fill="#000" textLength="16.0" lengthAdjust="spacingAndGlyphs" stroke="#000" stroke-width="0.35">80</text>
<text x="20.0" y="621.5" font-size="17.5" style='font-family:"DejaVu Sans Light","DejaVu Sans","Liberation Sans",sans-serif' font-weight="normal" text-anchor="start" fill="#000" textLength="17.5" lengthAdjust="spacingAndGlyphs" transform="rotate(-90 20.0 621.5)" stroke="#000" stroke-width="0.55">60</text>
<text x="272.8" y="594.0" font-size="17.5" style='font-family:"DejaVu Sans Light","DejaVu Sans","Liberation Sans",sans-serif' font-weight="normal" text-anchor="start" fill="#000" textLength="29.0" lengthAdjust="spacingAndGlyphs" transform="rotate(-90 272.8 594.0)" stroke="#000" stroke-width="0.55"><tspan font-style="italic">ϕ</tspan>155</text>
<text x="547.0" y="602.2" font-size="17.5" style='font-family:"DejaVu Sans Light","DejaVu Sans","Liberation Sans",sans-serif' font-weight="normal" text-anchor="start" fill="#000" textLength="30.0" lengthAdjust="spacingAndGlyphs" transform="rotate(-90 547.0 602.2)" stroke="#000" stroke-width="0.55"><tspan font-style="italic">ϕ</tspan>145</text>
<text x="715.4" y="622.8" font-size="17.5" style='font-family:"DejaVu Sans Light","DejaVu Sans","Liberation Sans",sans-serif' font-weight="normal" text-anchor="start" fill="#000" textLength="21.5" lengthAdjust="spacingAndGlyphs" transform="rotate(-90 715.4 622.8)" stroke="#000" stroke-width="0.55">180</text></g>
<g id="table" opacity="0.999"><rect x="36.2" y="974.7" width="472.3" height="112.0" fill="#fff" stroke="#000" stroke-width="2"/>
<line x1="36.2" y1="1010.5" x2="508.5" y2="1010.5" stroke="#000" stroke-width="1.5"/>
<line x1="36.2" y1="1048.6" x2="508.5" y2="1048.6" stroke="#000" stroke-width="1.5"/>
<line x1="297.7" y1="974.7" x2="297.7" y2="1086.7" stroke="#000" stroke-width="1.5"/>
<line x1="402.6" y1="974.7" x2="402.6" y2="1086.7" stroke="#000" stroke-width="1.5"/>
<text x="82.5" y="1002.4" font-size="25" style='font-family:"Liberation Sans",sans-serif' font-weight="bold" text-anchor="start" fill="#000" textLength="163.0" lengthAdjust="spacingAndGlyphs" >Обозначение</text>
<text x="314.6" y="1002.4" font-size="25" style='font-family:"Liberation Sans",sans-serif' font-weight="bold" text-anchor="start" fill="#000" textLength="66.5" lengthAdjust="spacingAndGlyphs" >S, мм</text>
<text x="421.3" y="1002.4" font-size="25" style='font-family:"Liberation Sans",sans-serif' font-weight="bold" text-anchor="start" fill="#000" textLength="65.5" lengthAdjust="spacingAndGlyphs" >L, мм</text>
<text x="36.8" y="1039.0" font-size="25" style='font-family:"Liberation Sans",sans-serif' font-weight="normal" text-anchor="start" fill="#000" textLength="235.2" lengthAdjust="spacingAndGlyphs" >ЦГ-125.63x810.22-01</text>
<text x="36.8" y="1076.9" font-size="25" style='font-family:"Liberation Sans",sans-serif' font-weight="normal" text-anchor="start" fill="#000" textLength="249.2" lengthAdjust="spacingAndGlyphs" >ЦГ-125.63x1010.22-01</text>
<text x="327.0" y="1039.0" font-size="25" style='font-family:"Liberation Sans",sans-serif' font-weight="normal" text-anchor="start" fill="#000" textLength="42.5" lengthAdjust="spacingAndGlyphs" >810</text>
<text x="426.0" y="1039.0" font-size="25" style='font-family:"Liberation Sans",sans-serif' font-weight="normal" text-anchor="start" fill="#000" textLength="56.0" lengthAdjust="spacingAndGlyphs" >1278</text>
<text x="321.5" y="1076.9" font-size="25" style='font-family:"Liberation Sans",sans-serif' font-weight="normal" text-anchor="start" fill="#000" textLength="55.0" lengthAdjust="spacingAndGlyphs" >1010</text>
<text x="426.5" y="1076.9" font-size="25" style='font-family:"Liberation Sans",sans-serif' font-weight="normal" text-anchor="start" fill="#000" textLength="55.5" lengthAdjust="spacingAndGlyphs" >1598</text></g>
<rect x="2.6" y="2.55" width="793.8" height="1121.75" fill="none" stroke="#000" stroke-width="1.3"/>
</svg>
</body></html>
